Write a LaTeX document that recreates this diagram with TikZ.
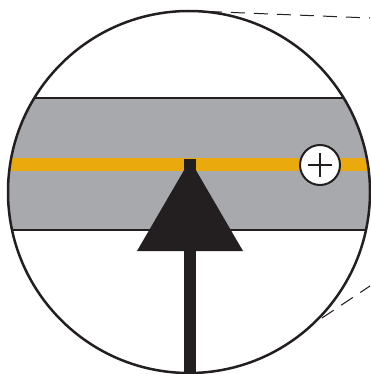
\documentclass[tikz,border=0pt]{standalone}
\definecolor{ink}{HTML}{231F20}
\definecolor{band}{HTML}{A7A9AC}
\definecolor{amber}{HTML}{EAA90C}
\begin{document}
\begin{tikzpicture}[x=1pt,y=-1pt,
  outline/.style={draw=ink,line width=2.5pt},
  edge/.style={draw=ink,line width=2pt},
  leader/.style={draw=ink,line width=1pt,dash pattern=on 14pt off 9pt}]
\useasboundingbox (0,0) rectangle (370,374);
\coordinate (c) at (189,192);
\begin{scope}
  \clip (c) circle (181);
  \fill[band] (0,98) rectangle (370,230);
  \draw[edge] (0,98) -- (370,98);
  \draw[edge] (0,230) -- (370,230);
  \fill[amber] (0,157.5) rectangle (370,171);
\end{scope}
\draw[outline] (c) circle (181);
% marker
\node[circle,draw=ink,fill=white,line width=2pt,minimum size=40pt,inner sep=0] (m) at (320,165) {};
\draw[ink,line width=2pt] ([xshift=-12pt]m.center) -- ([xshift=12pt]m.center);
\draw[ink,line width=2pt] ([yshift=-12pt]m.center) -- ([yshift=12pt]m.center);
% arrow
\fill[ink] (184,159) rectangle (196,374);
\fill[ink] (190,160) -- (243,251) -- (137,251) -- cycle;
% leaders
\coordinate (t1) at (208,11.5);
\coordinate (t2) at (370,18);
\coordinate (b1) at (322,318);
\coordinate (b2) at (370,286);
\draw[leader] (t1) -- (t2);
\draw[leader] (b1) -- (b2);
\end{tikzpicture}
\end{document}
